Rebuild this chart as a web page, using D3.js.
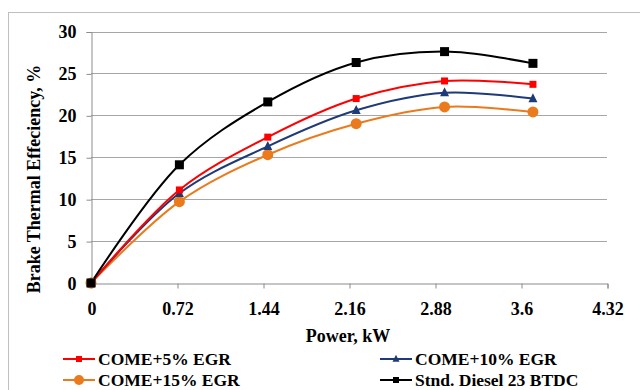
<!DOCTYPE html>
<html><head><meta charset="utf-8">
<script src="https://cdn.jsdelivr.net/npm/d3@7"></script>
<style>html,body{margin:0;padding:0;background:#fff;}svg{display:block;}</style>
</head><body>
<svg id="c" width="640" height="390"></svg>
<script>
const powerKW = [0, 0.74, 1.48, 2.22, 2.96, 3.7];
const come5 = [0, 11.1, 17.4, 22.0, 24.1, 23.7];
const come10 = [0, 10.7, 16.3, 20.6, 22.7, 22.0];
const come15 = [0, 9.7, 15.3, 19.0, 21.0, 20.4];
const diesel = [0, 14.1, 21.6, 26.3, 27.6, 26.2];
const xTicks = [0, 0.72, 1.44, 2.16, 2.88, 3.6, 4.32];
const yTicks = [0, 5, 10, 15, 20, 25, 30];
const seriesNames = ["COME+5% EGR", "COME+10% EGR", "COME+15% EGR", "Stnd. Diesel 23 BTDC"];

const series = [
  {name: seriesNames[0], values: come5, color: "#ff0000", marker: "square", size: 7},
  {name: seriesNames[1], values: come10, color: "#1f3a78", marker: "triangle", size: 9},
  {name: seriesNames[2], values: come15, color: "#ea7a1c", marker: "circle", size: 11},
  {name: seriesNames[3], values: diesel, color: "#000000", marker: "square", size: 9}
];

const svg = d3.select("#c");
const font = "'Liberation Serif','Times New Roman',serif";

// outer border
svg.append("rect").attr("x", 8.5).attr("y", 12.5).attr("width", 640).attr("height", 400)
  .attr("fill", "none").attr("stroke", "#bfbfbf");

const x = d3.scaleLinear().domain([0, 4.32]).range([91, 607]);
const y = d3.scaleLinear().domain([0, 30]).range([283, 31.5]);

// gridlines
svg.append("g").selectAll("line").data(yTicks.filter(d => d > 0)).join("line")
  .attr("x1", x(0)).attr("x2", x(4.32))
  .attr("y1", d => Math.round(y(d)) + 0.5).attr("y2", d => Math.round(y(d)) + 0.5)
  .attr("stroke", "#a6a6a6").attr("stroke-width", 1);

// axes
const yAxis = d3.axisLeft(y).tickValues(yTicks).tickSize(5).tickPadding(10).tickFormat(d3.format("d"));
const gy = svg.append("g").attr("transform", `translate(${x(0) + 0.5},0.5)`).call(yAxis);
const xAxis = d3.axisBottom(x).tickValues(xTicks).tickSize(5).tickPadding(14).tickFormat(d => String(d));
const gx = svg.append("g").attr("transform", `translate(0.5,${Math.round(y(0)) + 0.5})`).call(xAxis);
[gx, gy].forEach(g => {
  g.select(".domain").attr("stroke", "#8c8c8c");
  g.selectAll(".tick line").attr("stroke", "#8c8c8c");
  g.selectAll(".tick text").attr("font-family", font).attr("font-weight", "bold")
    .attr("font-size", 18).attr("fill", "#000");
});
gx.selectAll(".tick").filter(d => d === 0).select("line").remove();
gy.selectAll(".tick").filter(d => d === 0).select("line").remove();

// axis titles
svg.append("text").attr("x", 348).attr("y", 342).attr("text-anchor", "middle")
  .attr("font-family", font).attr("font-weight", "bold").attr("font-size", 18).text("Power, kW");
svg.append("text").attr("transform", "translate(40,179) rotate(-90)").attr("text-anchor", "middle")
  .attr("font-family", font).attr("font-weight", "bold").attr("font-size", 18).text("Brake Thermal Effeciency, %");

// lines
const line = d3.line().x(d => x(d[0])).y(d => y(d[1])).curve(d3.curveCatmullRom.alpha(0.5));
function drawMarker(g, type, cx, cy, size, color) {
  if (type === "square") {
    g.append("rect").attr("x", cx - size / 2).attr("y", cy - size / 2).attr("width", size).attr("height", size).attr("fill", color);
  } else if (type === "circle") {
    g.append("circle").attr("cx", cx).attr("cy", cy).attr("r", size / 2).attr("fill", color);
  } else {
    const h = size;
    g.append("path").attr("d", `M${cx},${cy - h * 0.6}L${cx + h / 2},${cy + h * 0.4}L${cx - h / 2},${cy + h * 0.4}Z`).attr("fill", color);
  }
}
const drawOrder = [2, 1, 0, 3];
drawOrder.forEach(i => {
  const s = series[i];
  const pts = powerKW.map((p, j) => [p, s.values[j]]);
  svg.append("path").datum(pts).attr("d", line).attr("fill", "none")
    .attr("stroke", s.color).attr("stroke-width", 2);
});
drawOrder.forEach(i => {
  const s = series[i];
  const g = svg.append("g");
  powerKW.forEach((p, j) => drawMarker(g, s.marker, x(p), y(s.values[j]), s.size, s.color));
});

// legend
const legendPos = [[63, 359], [380, 359], [63, 380], [380, 380]];
series.forEach((s, i) => {
  const [lx, ly] = legendPos[i];
  const g = svg.append("g");
  g.append("line").attr("x1", lx).attr("x2", lx + 32).attr("y1", ly).attr("y2", ly)
    .attr("stroke", s.color).attr("stroke-width", 2);
  const msize = s.marker === "circle" ? 10 : (s.marker === "triangle" ? 7 : 6);
  drawMarker(g, s.marker, lx + 16, ly, msize, s.color);
  g.append("text").attr("x", lx + 35).attr("y", ly + 6).attr("font-family", font)
    .attr("font-weight", "bold").attr("font-size", 17.5).text(s.name);
});
</script>
</body></html>
